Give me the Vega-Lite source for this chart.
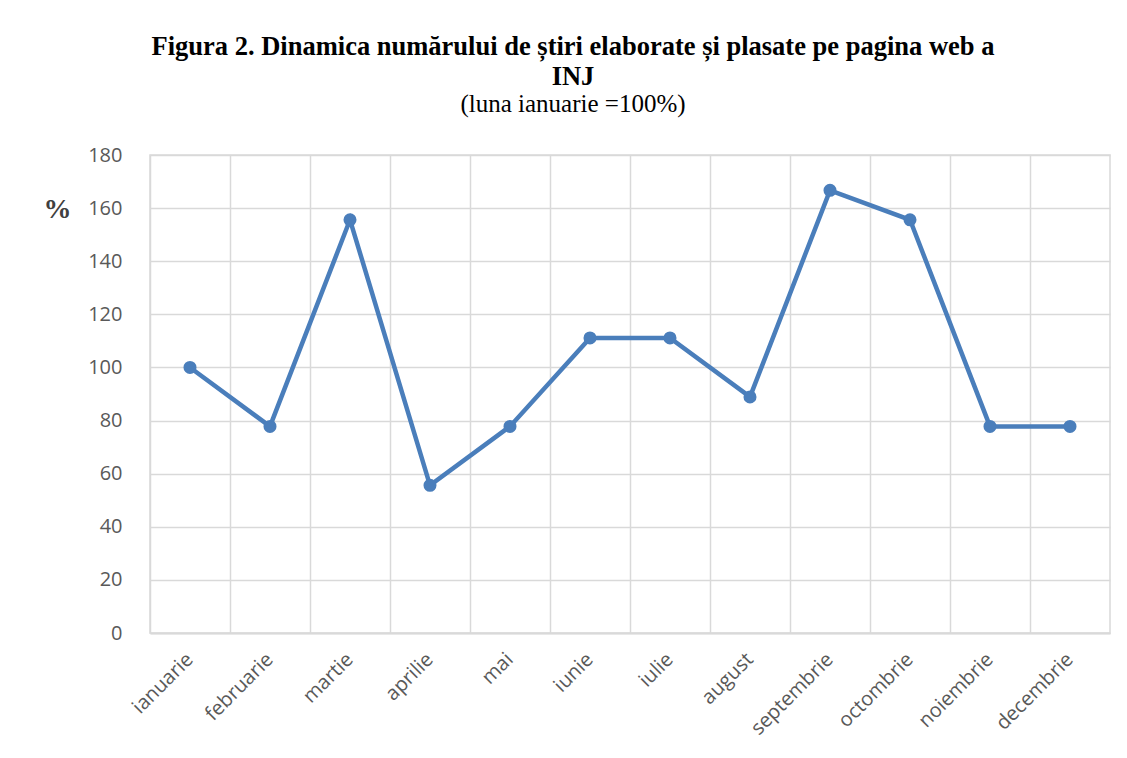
{
  "$schema": "https://vega.github.io/schema/vega-lite/v6.json",
  "width": 960,
  "height": 478,
  "autosize": {"type": "none"},
  "padding": {"left": 150, "top": 155, "right": 17, "bottom": 125},
  "background": "white",
  "title": {
    "text": ["Figura 2. Dinamica numărului de știri elaborate și plasate pe pagina web a", "INJ"],
    "subtitle": "(luna ianuarie =100%)",
    "font": "Liberation Serif",
    "fontSize": 26.5,
    "fontWeight": "bold",
    "color": "#000000",
    "lineHeight": 30,
    "subtitleFont": "Liberation Serif",
    "subtitleFontSize": 25,
    "subtitleColor": "#000000",
    "subtitlePadding": 2,
    "anchor": "middle",
    "dx": -57,
    "offset": 28
  },
  "data": {
    "values": [
      {"luna": "ianuarie", "v": 100},
      {"luna": "februarie", "v": 77.8},
      {"luna": "martie", "v": 155.6},
      {"luna": "aprilie", "v": 55.6},
      {"luna": "mai", "v": 77.8},
      {"luna": "iunie", "v": 111.1},
      {"luna": "iulie", "v": 111.1},
      {"luna": "august", "v": 88.9},
      {"luna": "septembrie", "v": 166.7},
      {"luna": "octombrie", "v": 155.6},
      {"luna": "noiembrie", "v": 77.8},
      {"luna": "decembrie", "v": 77.8}
    ]
  },
  "encoding": {
    "x": {
      "field": "luna",
      "type": "nominal",
      "sort": null,
      "bandPosition": 0.5,
      "scale": {"type": "band", "paddingInner": 0, "paddingOuter": 0},
      "axis": {
        "title": null,
        "bandPosition": 0,
        "labelOffset": 0,
        "labelAngle": -45,
        "labelAlign": "right",
        "labelBaseline": "middle",
        "labelFont": "Open Sans",
        "labelFontSize": 20,
        "labelColor": "#595959",
        "labelPadding": 23,
        "ticks": false,
        "domain": true,
        "domainColor": "#d9d9d9",
        "domainWidth": 2,
        "grid": true,
        "gridColor": "#d9d9d9",
        "gridWidth": 1.5
      }
    },
    "y": {
      "field": "v",
      "type": "quantitative",
      "scale": {"domain": [0, 180], "nice": false},
      "axis": {
        "values": [0, 20, 40, 60, 80, 100, 120, 140, 160, 180],
        "title": "%",
        "titleAngle": 0,
        "titleAlign": "center",
        "titleBaseline": "middle",
        "titleX": -93,
        "titleY": 54,
        "titleFont": "Liberation Serif",
        "titleFontSize": 28,
        "titleFontWeight": "bold",
        "titleColor": "#404040",
        "labelFont": "Open Sans",
        "labelFontSize": 20,
        "labelColor": "#595959",
        "labelPadding": 28,
        "ticks": false,
        "domain": false,
        "grid": true,
        "gridColor": "#d9d9d9",
        "gridWidth": 1.5
      }
    }
  },
  "layer": [
    {"mark": {"type": "line", "color": "#4a7ebb", "strokeWidth": 4.5}},
    {"mark": {"type": "point", "filled": true, "color": "#4a7ebb", "opacity": 1, "size": 170}}
  ],
  "config": {
    "view": {"stroke": "#d9d9d9", "strokeWidth": 1.5}
  }
}
